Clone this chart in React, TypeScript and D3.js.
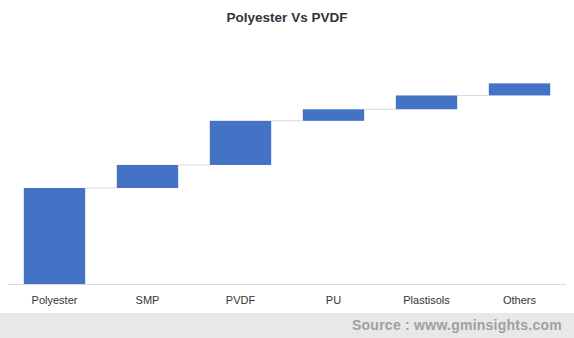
import React from "react";
import * as d3 from "d3";

const categories = ["Polyester", "SMP", "PVDF", "PU", "Plastisols", "Others"];
const values = [50, 12, 23, 6, 7.2, 6.3];

const W = 574;
const H = 338;

export default function App() {
  const x = d3.scaleBand<string>().domain(categories).range([8, 566]).paddingInner(0.34).paddingOuter(0.17);
  const y = d3.scaleLinear().domain([0, 100]).range([284, 92]);
  let cum = 0;
  const bars = values.map((v, i) => {
    const start = cum;
    cum += v;
    return { cat: categories[i], start, end: cum };
  });
  return (
    <svg width={W} height={H} style={{ position: "absolute", left: 0, top: 0, fontFamily: "Liberation Sans, Arial, sans-serif" }}>
      <rect x={0} y={0} width={W} height={H} fill="#fff" />
      <text x={287} y={22} textAnchor="middle" fontSize={13.5} fontWeight="bold" fill="#333">Polyester Vs PVDF</text>
      {bars.map((b) => (
        <rect key={b.cat} x={x(b.cat)} y={y(b.end)} width={x.bandwidth()} height={y(b.start) - y(b.end)} fill="#4472C4" />
      ))}
      {bars.slice(0, -1).map((b, i) => (
        <line key={"c" + i} x1={(x(b.cat) as number) + x.bandwidth()} x2={x(categories[i + 1]) as number} y1={y(b.end)} y2={y(b.end)} stroke="#d9d9d9" strokeWidth={1} />
      ))}
      <line x1={8} x2={566} y1={284.5} y2={284.5} stroke="#d9d9d9" strokeWidth={1} />
      {categories.map((c) => (
        <text key={c} x={(x(c) as number) + x.bandwidth() / 2} y={304} textAnchor="middle" fontSize={11} fill="#333">{c}</text>
      ))}
      <rect x={0} y={313} width={W} height={25} fill="#e8e8e8" />
      <text x={562} y={330} textAnchor="end" fontSize={14} fontWeight="bold" fill="#a0a0a0" letterSpacing={0.25}>Source : www.gminsights.com</text>
    </svg>
  );
}
